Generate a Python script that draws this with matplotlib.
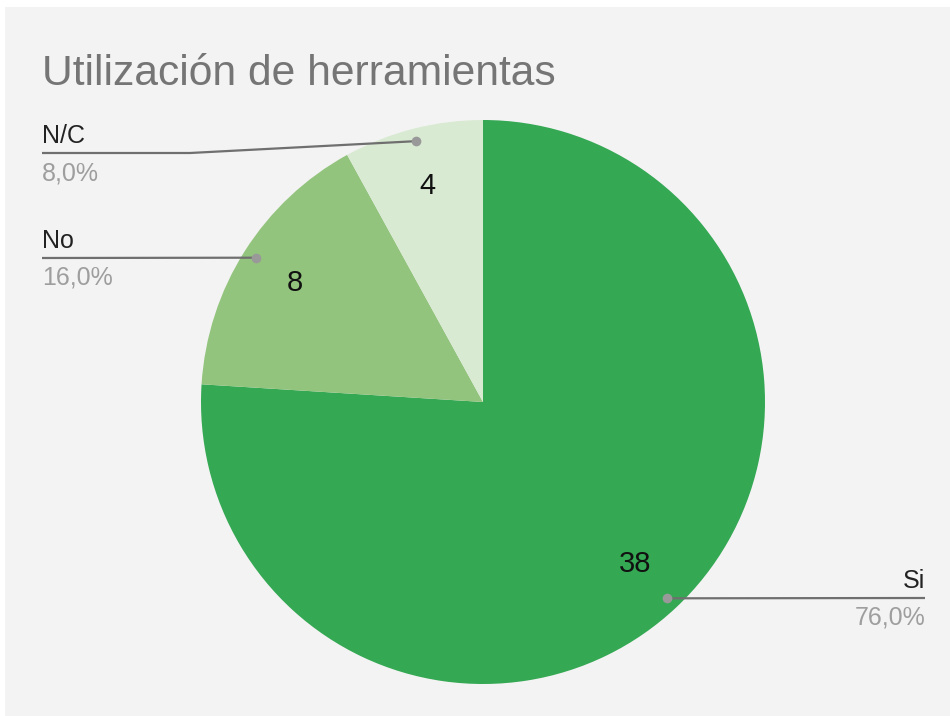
import matplotlib.pyplot as plt
from matplotlib.patches import Rectangle
import numpy as np

labels = ['Si', 'No', 'N/C']
counts = [38, 8, 4]
colors = ['#34a853', '#93c47d', '#d9ead3']

W, H = 950, 716


def main():
    plt.rcParams['font.family'] = ['Liberation Sans', 'DejaVu Sans']
    fig = plt.figure(figsize=(9.5, 7.16), dpi=100, facecolor='white')
    ax = fig.add_axes([0, 0, 1, 1])

    # gray chart background (white margin on top and left)
    ax.add_patch(Rectangle((5, 0), W - 5, H - 7, facecolor='#f3f3f3',
                           edgecolor='none', zorder=0))

    total = sum(counts)
    cx, cy, r = 483, H - 402, 282
    wedges, _, autotexts = ax.pie(
        counts, colors=colors, startangle=90, counterclock=False,
        center=(cx, cy), radius=r, frame=True,
        autopct=lambda p: f'{round(p * total / 100)}', pctdistance=0.79,
        wedgeprops=dict(linewidth=0), textprops=dict(fontsize=21, color='#111111'))
    ax.set_xlim(0, W)
    ax.set_ylim(0, H)
    ax.axis('off')

    ax.text(42, H - 85, 'Utilización de herramientas', fontsize=30.7,
            color='#757575', va='baseline', ha='left')

    # label anchor: (text x, line y, alignment, elbow x)
    anchors = {
        'Si': (925, 598, 'right', None),
        'No': (42, 258, 'left', None),
        'N/C': (42, 153, 'left', 190),
    }
    for w, lab, n in zip(wedges, labels, counts):
        mid = np.deg2rad((w.theta1 + w.theta2) / 2)
        dx = cx + 0.955 * r * np.cos(mid)
        dy = cy + 0.955 * r * np.sin(mid)
        tx, ly, ha, ex = anchors[lab]
        ly = H - ly
        if ex is None:
            xs, ys = [tx, dx], [ly, dy]
        else:
            xs, ys = [tx, ex, dx], [ly, ly, dy]
        ax.plot(xs, ys, color='#6f6f6f', lw=1.6, solid_capstyle='butt', zorder=5)
        ax.plot(dx, dy, 'o', ms=7, color='#999999', mec='none', zorder=6)
        ax.text(tx, ly + 10, lab, fontsize=18, color='#222222', ha=ha, va='baseline')
        pct = f'{100 * n / total:.1f}%'.replace('.', ',')
        ax.text(tx, ly - 27, pct, fontsize=18, color='#9e9e9e', ha=ha, va='baseline')

    fig.savefig('out.png', dpi=100, facecolor='white')


if __name__ == '__main__':
    main()
